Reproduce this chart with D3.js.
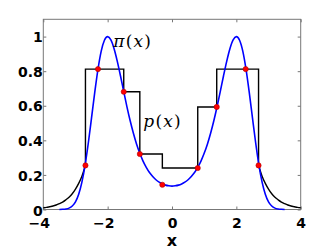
<!DOCTYPE html>
<html>
<head>
<meta charset="utf-8">
<script src="https://cdn.jsdelivr.net/npm/d3@7"></script>
<style>
  body { margin: 0; background: #fff; }
  .tick text { font-family: "DejaVu Sans"; font-weight: bold; font-size: 14px; fill: #000; }
  .tick line { stroke: #777; }
</style>
</head>
<body>
<div id="chart"></div>
<script>
// pi(x)
var piCurve = [
  [-3.5, 0.000], [-3.4, 0.001], [-3.3, 0.003], [-3.2, 0.008], [-3.1, 0.020], [-3.0, 0.044],
  [-2.9, 0.088], [-2.8, 0.158], [-2.7, 0.258], [-2.6, 0.386], [-2.5, 0.531], [-2.4, 0.679],
  [-2.3, 0.812], [-2.2, 0.916], [-2.1, 0.979], [-2.0, 1.000], [-1.9, 0.981], [-1.8, 0.930],
  [-1.7, 0.857], [-1.6, 0.772], [-1.5, 0.682], [-1.4, 0.594], [-1.3, 0.513], [-1.2, 0.441],
  [-1.1, 0.378], [-1.0, 0.325], [-0.9, 0.280], [-0.8, 0.244], [-0.7, 0.214], [-0.6, 0.191],
  [-0.5, 0.172], [-0.4, 0.158], [-0.3, 0.148], [-0.2, 0.141], [-0.1, 0.137], [0.0, 0.135],
  [0.1, 0.137], [0.2, 0.141], [0.3, 0.148], [0.4, 0.158], [0.5, 0.172], [0.6, 0.191],
  [0.7, 0.214], [0.8, 0.244], [0.9, 0.280], [1.0, 0.325], [1.1, 0.378], [1.2, 0.441],
  [1.3, 0.513], [1.4, 0.594], [1.5, 0.682], [1.6, 0.772], [1.7, 0.857], [1.8, 0.930],
  [1.9, 0.981], [2.0, 1.000], [2.1, 0.979], [2.2, 0.916], [2.3, 0.812], [2.4, 0.679],
  [2.5, 0.531], [2.6, 0.386], [2.7, 0.258], [2.8, 0.158], [2.9, 0.088], [3.0, 0.044],
  [3.1, 0.020], [3.2, 0.008], [3.3, 0.003], [3.4, 0.001], [3.5, 0.000]
]

// p(x): step edges and heights, plus the two tails
var stepEdges = [-2.69, -1.5, -1.0, -0.3, 0.8, 1.39, 2.69]
var stepHeights = [0.812, 0.681, 0.321, 0.24, 0.593, 0.812]
var leftTail = [
  [-4.0, 0.010], [-3.9, 0.012], [-3.8, 0.016], [-3.7, 0.020], [-3.6, 0.026], [-3.5, 0.034],
  [-3.4, 0.043], [-3.3, 0.056], [-3.2, 0.071], [-3.1, 0.091], [-3.0, 0.118], [-2.9, 0.151],
  [-2.8, 0.193], [-2.69, 0.255]
]
var rightTail = [
  [2.69, 0.255], [2.8, 0.193], [2.9, 0.151], [3.0, 0.118], [3.1, 0.091], [3.2, 0.071],
  [3.3, 0.056], [3.4, 0.043], [3.5, 0.034], [3.6, 0.026], [3.7, 0.020], [3.8, 0.016],
  [3.9, 0.012], [4.0, 0.010]
]

// red points
var dots = [
  [-2.69, 0.255], [-2.3, 0.812], [-1.5, 0.681], [-1.0, 0.321], [-0.3, 0.143],
  [0.8, 0.24], [1.39, 0.593], [2.29, 0.812], [2.69, 0.255]
]

var xTicks = [-4, -2, 0, 2, 4]
var yTicks = [0, 0.2, 0.4, 0.6, 0.8, 1]

var width = 333, height = 250
var m = { left: 43.3, right: 300.7, top: 19.3, bottom: 209.5 }

var svg = d3.select("#chart").append("svg")
    .attr("width", width)
    .attr("height", height)

var x = d3.scaleLinear().domain([-4, 4]).range([m.left, m.right])
var y = d3.scaleLinear().domain([0, 1.1]).range([m.bottom, m.top])

// axes, ticks inward
var fmt = d => d < 0 ? "\u2212" + Math.abs(d) : String(d)

var gx = svg.append("g")
    .attr("transform", `translate(0,${m.bottom})`)
    .call(d3.axisBottom(x).tickValues(xTicks).tickSizeInner(-3).tickSizeOuter(0).tickPadding(9).tickFormat(fmt))
gx.select(".domain").remove()
gx.selectAll(".tick text").filter(d => d < 0).attr("dx", -4.5)

var gy = svg.append("g")
    .attr("transform", `translate(${m.left},0)`)
    .call(d3.axisLeft(y).tickValues(yTicks).tickSizeInner(-3).tickSizeOuter(0).tickPadding(0.5).tickFormat(d => String(d)))
gy.select(".domain").remove()
gy.selectAll(".tick text").attr("dy", "0.37em")
gy.selectAll(".tick text").filter(d => d === 0).attr("dy", "0.45em")

var gt = svg.append("g")
    .attr("transform", `translate(0,${m.top})`)
    .call(d3.axisTop(x).tickValues(xTicks).tickSizeInner(-3).tickSizeOuter(0).tickFormat(""))
gt.select(".domain").remove()

var gr = svg.append("g")
    .attr("transform", `translate(${m.right},0)`)
    .call(d3.axisRight(y).tickValues(yTicks).tickSizeInner(-3).tickSizeOuter(0).tickFormat(""))
gr.select(".domain").remove()

svg.append("rect")
    .attr("x", m.left).attr("y", m.top)
    .attr("width", m.right - m.left).attr("height", m.bottom - m.top)
    .attr("fill", "none")
    .attr("stroke", "#777")
    .attr("stroke-width", 1)

// p(x) black
var smooth = d3.line().x(d => x(d[0])).y(d => y(d[1])).curve(d3.curveMonotoneX)
var stepPts = stepHeights.map((h, i) => [stepEdges[i], h])
stepPts.push([stepEdges[stepEdges.length - 1], stepHeights[stepHeights.length - 1]])
var stepLine = d3.line().x(d => x(d[0])).y(d => y(d[1])).curve(d3.curveStepAfter)

var blackG = svg.append("g")
    .attr("fill", "none")
    .attr("stroke", "#000")
    .attr("stroke-width", 1.4)
blackG.append("path").attr("d", smooth(leftTail))
blackG.append("path").attr("d", smooth(rightTail))
blackG.append("path")
    .attr("d", stepLine([[stepEdges[0], leftTail[leftTail.length - 1][1]]].concat(stepPts).concat([[stepEdges[stepEdges.length - 1], rightTail[0][1]]])))

// pi(x) blue
svg.append("path")
    .datum(piCurve)
    .attr("fill", "none")
    .attr("stroke", "#0000ff")
    .attr("stroke-width", 1.6)
    .attr("d", smooth)

svg.append("g")
    .selectAll("circle")
    .data(dots)
    .enter().append("circle")
    .attr("cx", d => x(d[0]))
    .attr("cy", d => y(d[1]))
    .attr("r", 2.6)
    .attr("fill", "#ff0000")
    .attr("stroke", "#b00000")
    .attr("stroke-width", 0.6)

// labels
function mathLabel(px, py, fname) {
    var t = svg.append("text")
        .attr("x", px).attr("y", py)
        .style("font-family", "DejaVu Serif")
        .style("font-size", "17px")
        .style("letter-spacing", "1.2px")
    t.append("tspan").style("font-style", "italic").text(fname)
    t.append("tspan").text("(")
    t.append("tspan").style("font-style", "italic").text("x")
    t.append("tspan").text(")")
}
mathLabel(113.3, 46.5, "\u03c0")
mathLabel(143.3, 126.5, "p")

svg.append("text")
    .attr("x", (m.left + m.right) / 2)
    .attr("y", 246)
    .attr("text-anchor", "middle")
    .style("font-family", "DejaVu Sans")
    .style("font-weight", "bold")
    .style("font-size", "16px")
    .text("x")
</script>
</body>
</html>
